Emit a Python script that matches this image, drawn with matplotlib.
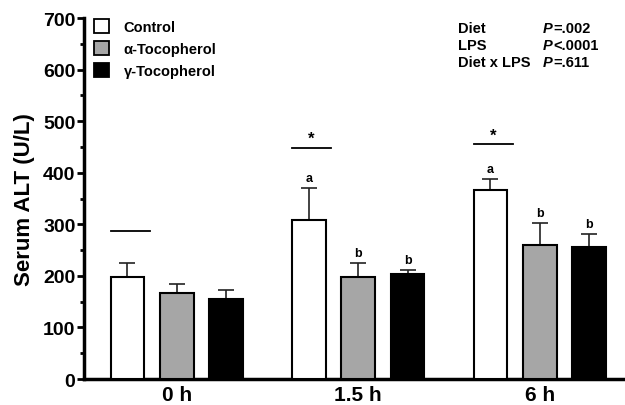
import matplotlib
matplotlib.use('Agg')
import matplotlib.pyplot as plt
import numpy as np
from matplotlib.patches import Patch

plt.rcParams['font.family'] = ['Liberation Sans', 'DejaVu Sans']

# data
times = ['0 h', '1.5 h', '6 h']
groups = ['Control', '\u03b1-Tocopherol', '\u03b3-Tocopherol']
means = {
    'Control': [198, 308, 366],
    '\u03b1-Tocopherol': [167, 198, 260],
    '\u03b3-Tocopherol': [155, 204, 256],
}
sems = {
    'Control': [27, 62, 22],
    '\u03b1-Tocopherol': [17, 27, 42],
    '\u03b3-Tocopherol': [18, 7, 25],
}
letters = {
    'Control': ['', 'a', 'a'],
    '\u03b1-Tocopherol': ['', 'b', 'b'],
    '\u03b3-Tocopherol': ['', 'b', 'b'],
}
sig_lines = [287, 448, 455]
sig_marks = ['', '*', '*']
colors = ['white', '#a6a6a6', 'black']
stats_names = ['Diet', 'LPS', 'Diet x LPS']
stats_p = ['=.002', '<.0001', '=.611']

fig = plt.figure(figsize=(6.25, 4.06), dpi=100)
ax = fig.add_axes([0.134, 0.064, 0.866, 0.889])

x = np.arange(len(times))
step = 0.272
width = 0.185
for j, g in enumerate(groups):
    xs = x + (j - 1) * step
    ax.bar(xs, means[g], width, color=colors[j], edgecolor='black', linewidth=1.5, zorder=3)
    ax.errorbar(xs, means[g], yerr=[np.zeros(len(xs)), sems[g]], fmt='none',
                ecolor='#222222', elinewidth=1.2, capsize=6, capthick=1.2, zorder=2)
    for k in range(len(xs)):
        if letters[g][k]:
            ax.text(xs[k], means[g][k] + sems[g][k] + 8, letters[g][k], ha='center', va='bottom',
                    fontsize=9, fontweight='bold')

for k in range(len(times)):
    x0 = x[k] - step - width / 2
    ax.plot([x0, x0 + width + 0.03], [sig_lines[k], sig_lines[k]], color='black', lw=1.3, zorder=3)
    if sig_marks[k]:
        ax.text(x0 + (width + 0.03) / 2, sig_lines[k] + 4, sig_marks[k], ha='center', va='bottom',
                fontsize=12, fontweight='bold')

ax.set_xlim(-0.513, 2.47)
ax.set_ylim(0, 700)
ax.set_yticks(np.arange(0, 701, 100))
ax.set_yticks(np.arange(50, 700, 100), minor=True)
ax.set_xticks(x)
ax.set_xticklabels(times, fontsize=15, fontweight='bold')
for lbl in ax.get_yticklabels():
    lbl.set_fontweight('bold')
    lbl.set_fontsize(14)
ax.tick_params(axis='x', length=0, pad=4)
ax.tick_params(axis='y', which='major', length=5, width=2, pad=1)
ax.tick_params(axis='y', which='minor', length=3, width=2)
ax.spines['top'].set_visible(False)
ax.spines['right'].set_visible(False)
ax.spines['left'].set_linewidth(2.5)
ax.spines['bottom'].set_linewidth(2.5)
ax.set_ylabel('Serum ALT (U/L)', fontsize=16, fontweight='bold', labelpad=6)

handles = [Patch(facecolor=colors[j], edgecolor='black', linewidth=1.3) for j in range(3)]
leg = ax.legend(handles, groups, loc='upper left', bbox_to_anchor=(0.0, 1.025), frameon=False,
                prop={'weight': 'bold', 'size': 10.5}, handlelength=1.05, handleheight=1.05,
                handletextpad=1.0, labelspacing=0.5, borderaxespad=0.3)

for i in range(3):
    ypos = 0.929 - i * 0.042
    fig.text(0.733, ypos, stats_names[i], fontsize=10.5, fontweight='bold', va='center')
    fig.text(0.868, ypos, 'P', fontsize=10.5, fontweight='bold', fontstyle='italic', va='center')
    fig.text(0.885, ypos, stats_p[i], fontsize=10.5, fontweight='bold', va='center')

fig.savefig('out.png', dpi=100)
